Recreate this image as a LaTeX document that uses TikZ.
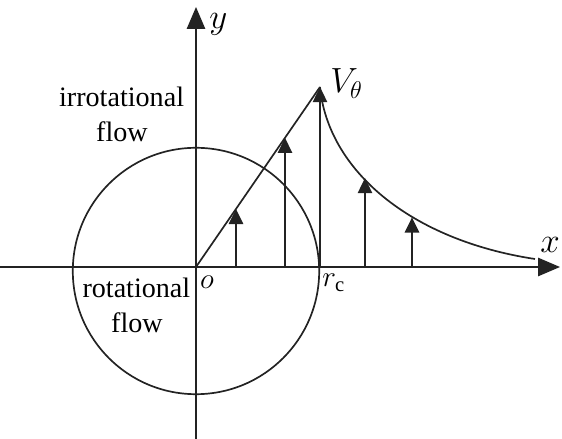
\documentclass[tikz,border=0pt]{standalone}
\usepackage{fontspec}
\setmainfont{Liberation Serif}
\usetikzlibrary{arrows.meta,positioning}
\definecolor{linecol}{RGB}{35,35,35}
\tikzset{
  % coordinate axis
  axis/.style={line width=1.2pt, draw=linecol, -{Triangle[length=5.5mm,width=4.6mm]}},
  % velocity arrow
  velarrow/.style={line width=1.2pt, draw=linecol, -{Triangle[length=3.8mm,width=3.6mm]}},
  % plain curve
  curve/.style={line width=1.2pt, draw=linecol},
  % region text
  regtext/.style={font=\fontsize{20}{24}\selectfont, anchor=base, inner sep=0pt},
  % math labels
  mlabel/.style={font=\fontsize{24}{28}\selectfont, anchor=base west, inner sep=0pt},
  slabel/.style={font=\fontsize{21}{25}\selectfont, inner sep=0pt},
}
\begin{document}
\begin{tikzpicture}
  \useasboundingbox (-4.9,-4.3) rectangle (9.15,6.675);
  % axes
  \coordinate (O) at (0,0);
  \coordinate (xl) at (-4.9,0);
  \coordinate (xr) at (9.1,0);
  \coordinate (yb) at (0,-4.3);
  \coordinate (yt) at (0,6.5);
  \draw[axis] (xl) -- (xr);
  \draw[axis] (yb) -- (yt);
  % core circle
  \draw[curve] (0,-0.1) circle (3.08);
  % velocity profile
  \coordinate (rc) at (3.1,0);
  \coordinate (P) at (3.1,4.5);
  \coordinate (E) at (8.475,0.2);
  \draw[curve] (O) -- (P);
  \draw[curve] (P) .. controls (3.3,2.425) and (5.35,0.675) .. (E);
  \draw[velarrow] (rc) -- (P);
  \foreach \i/\xa/\ya in {1/1.0/1.452, 2/2.225/3.23, 3/4.225/2.225, 4/5.4/1.24} {
    \coordinate (a\i) at (\xa,0);
    \coordinate (b\i) at (\xa,\ya);
    \draw[velarrow] (a\i) -- (b\i);
  }
  % labels
  \node[mlabel] (ylab) at (0.33,5.95) {$y$};
  \node[mlabel] (xlab) at (8.6,0.35) {$x$};
  \node[mlabel] (vlab) at (3.35,4.35) {$V_{\theta}$};
  \node[slabel] (olab) at (0.275,-0.375) {$o$};
  \node[slabel, anchor=base west] (rlab) at (3.15,-0.5) {$r_{\mathrm{c}}$};
  \node[regtext] (irr1) at (-1.86,4.0) {irrotational};
  \node[regtext] (irr2) at (-1.85,3.125) {flow};
  \node[regtext] (rot1) at (-1.49,-0.775) {rotational};
  \node[regtext] (rot2) at (-1.475,-1.65) {flow};
\end{tikzpicture}
\end{document}
